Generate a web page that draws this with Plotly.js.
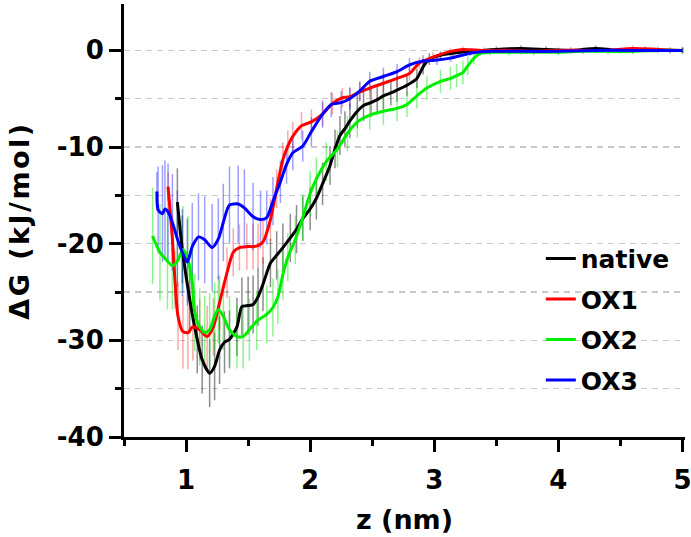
<!DOCTYPE html>
<html>
<head>
<meta charset="utf-8">
<script src="https://cdn.plot.ly/plotly-3.0.1.min.js"></script>
<style>html,body{margin:0;padding:0;background:#fff;}#chart{width:691px;height:537px;}
.ytitle{letter-spacing:2.5px;}</style>
</head>
<body>
<div id="chart"></div>
<script>
// ---- data ----
const seriesNames = ["native", "OX1", "OX2", "OX3"];

const zNative = [0.93,0.97,1.03,1.09,1.13,1.19,1.23,1.27,1.31,1.35,1.41,1.45,1.5,1.54,1.58,1.62,1.68,1.73,1.78,1.84,1.89,1.94,2.0,2.05,2.1,2.16,2.2,2.24,2.28,2.32,2.38,2.43,2.49,2.54,2.59,2.65,2.7,2.78,2.86,2.91,2.96,3.05,3.15,3.3,3.5,3.7,3.9,4.1,4.3,4.5,4.7,4.9,5.0];
const gNative = [-15.7,-20.6,-25.8,-29.9,-32.0,-33.4,-32.7,-31.0,-30.2,-29.9,-28.6,-26.5,-26.4,-26.3,-25.5,-24.2,-22.0,-21.2,-20.4,-19.4,-18.5,-17.4,-16.4,-15.3,-13.8,-11.9,-10.2,-8.8,-8.1,-7.3,-6.3,-5.7,-5.4,-5.1,-4.7,-4.4,-4.1,-3.6,-2.9,-1.7,-0.9,-0.5,-0.3,-0.1,0.1,0.2,0.1,0.0,0.2,0.0,0.1,0.0,0.0];
const eNative = [3.5,3.5,3.5,3.5,3.5,3.5,3.5,3.5,3.2,3,3,3,3,3,3,2.8,2.5,2.5,2.5,2.5,2.5,2.3,2.2,2.2,2.2,2,2,2,1.8,1.8,1.7,1.6,1.5,1.5,1.4,1.3,1.2,1.1,1.0,0.8,0.6,0.4,0.3,0.3,0.3,0.3,0.3,0.3,0.3,0.3,0.3,0.3,0.3];

const zOX1 = [0.855,0.89,0.91,0.935,0.975,1.015,1.055,1.11,1.17,1.22,1.27,1.33,1.38,1.43,1.49,1.54,1.58,1.62,1.68,1.73,1.78,1.82,1.86,1.93,2.01,2.1,2.18,2.26,2.32,2.4,2.48,2.59,2.7,2.8,2.88,2.99,3.13,3.23,3.4,3.6,3.8,4.0,4.2,4.4,4.6,4.8,5.0];
const gOX1 = [-14.1,-19.5,-23.7,-27.5,-29.1,-29.2,-28.6,-28.9,-29.6,-28.6,-26.1,-23.0,-20.9,-20.4,-20.3,-20.3,-20.2,-19.8,-17.5,-14.3,-11.3,-9.9,-8.9,-7.8,-7.4,-6.6,-5.5,-4.9,-4.8,-4.3,-3.9,-3.4,-2.9,-2.4,-1.3,-0.7,-0.1,0.1,0.0,0.0,-0.1,0.0,0.0,0.0,0.2,0.1,0.0];
const eOX1 = [1.5,2.5,3,3.5,3.8,3.8,3.5,3.2,3.2,3,2.8,2.6,2.5,2.4,2.4,2.4,2.3,2.3,2.2,2.0,1.8,1.6,1.5,1.4,1.3,1.2,1.1,1.0,1.0,1.0,1.0,1.0,0.9,0.8,0.6,0.5,0.3,0.3,0.3,0.3,0.3,0.3,0.3,0.3,0.3,0.3,0.3];

const zOX2 = [0.73,0.79,0.85,0.89,0.93,0.975,1.015,1.05,1.07,1.11,1.15,1.19,1.23,1.26,1.3,1.35,1.41,1.46,1.51,1.57,1.65,1.7,1.74,1.78,1.82,1.88,1.94,2.0,2.05,2.13,2.22,2.3,2.38,2.48,2.59,2.7,2.78,2.86,2.94,3.05,3.13,3.18,3.23,3.27,3.32,3.37,3.45,3.6,3.8,4.0,4.2,4.4,4.6,4.8,5.0];
const gOX2 = [-19.2,-20.9,-21.8,-22.3,-21.8,-20.6,-21.6,-24.0,-27.1,-28.6,-29.2,-28.9,-27.5,-26.8,-27.5,-28.9,-29.6,-29.6,-28.9,-28.0,-27.3,-26.6,-25.5,-23.2,-21.4,-19.6,-17.3,-14.8,-13.3,-11.5,-10.2,-8.6,-7.4,-6.7,-6.3,-6.0,-5.6,-4.7,-3.9,-3.2,-2.9,-2.6,-2.3,-1.6,-0.8,-0.3,-0.2,-0.2,-0.2,-0.2,-0.1,-0.1,-0.1,0.0,0.0];
const eOX2 = [5,5,5,4.5,4.5,4.5,4.5,4,4,4,3.8,3.8,3.5,3.5,3.5,3.5,3.3,3.3,3.2,3.0,3.0,3.0,2.8,2.6,2.5,2.5,2.4,2.3,2.2,2.0,1.9,1.8,1.6,1.5,1.4,1.3,1.3,1.3,1.2,1.2,1.2,1.2,1.2,1.0,0.6,0.3,0.3,0.3,0.3,0.3,0.3,0.3,0.3,0.3,0.3];

const zOX3 = [0.765,0.775,0.81,0.83,0.855,0.89,0.93,0.97,1.01,1.05,1.1,1.15,1.21,1.26,1.3,1.35,1.42,1.47,1.54,1.6,1.65,1.7,1.76,1.81,1.86,1.94,2.01,2.1,2.17,2.25,2.32,2.4,2.48,2.59,2.7,2.8,2.91,3.02,3.13,3.29,3.45,3.7,4.0,4.3,4.6,5.0];
const gOX3 = [-14.6,-16.5,-16.9,-16.4,-16.7,-17.8,-19.5,-20.9,-21.9,-20.3,-19.3,-19.6,-20.4,-19.5,-17.8,-16.0,-15.9,-16.3,-17.2,-17.5,-17.3,-15.6,-13.6,-11.8,-10.6,-9.9,-8.4,-6.6,-5.6,-5.4,-5.0,-4.2,-3.2,-2.7,-2.2,-1.5,-1.1,-1.0,-0.8,-0.3,-0.1,-0.1,-0.1,0.0,0.0,0.0];
const eOX3 = [2,4.5,5,5,5,5,5,4.5,4.5,4.5,4.5,4.5,4.5,4.2,4,4,4,4,3.5,3,2.8,2.5,2.2,2,1.8,1.6,1.5,1.4,1.3,1.2,1.1,1.0,1.0,0.9,0.8,0.7,0.6,0.5,0.4,0.3,0.3,0.3,0.3,0.3,0.3,0.3];

const xTickVals = [1, 2, 3, 4, 5];
const yTickVals = [0, -10, -20, -30, -40];

// ---- styling ----
const FONT = "DejaVu Sans";
const lineColors = ["#000000", "#ff0000", "#00ee00", "#0000ff"];
const barColors = ["rgba(0,0,0,0.45)", "rgba(255,0,0,0.35)", "rgba(0,230,0,0.45)", "rgba(0,0,255,0.38)"];

const zs = [zNative, zOX1, zOX2, zOX3];
const gs = [gNative, gOX1, gOX2, gOX3];
const es = [eNative, eOX1, eOX2, eOX3];

const traces = [];
// error bars first (underneath all curves)
for (let i = 0; i < 4; i++) {
  traces.push({
    x: zs[i], y: gs[i], type: "scatter", mode: "markers",
    marker: {size: 1, color: "rgba(0,0,0,0)"},
    error_y: {type: "data", array: es[i], visible: true, color: barColors[i], thickness: 1.5, width: 0},
    showlegend: false, hoverinfo: "skip"
  });
}
for (let i = 0; i < 4; i++) {
  traces.push({
    x: zs[i], y: gs[i], type: "scatter", mode: "lines",
    name: seriesNames[i], legendgroup: seriesNames[i],
    line: {color: lineColors[i], width: 3, shape: "spline", smoothing: 0.7}
  });
}

const layout = {
  width: 691, height: 537,
  margin: {l: 124, r: 6, t: 4, b: 100},
  paper_bgcolor: "#fff", plot_bgcolor: "#fff",
  font: {family: FONT, color: "#000"},
  showlegend: true,
  legend: {
    x: 0.743, y: 0.465, xanchor: "left", yanchor: "top",
    font: {family: FONT, size: 25, color: "#000", weight: "bold"},
    bgcolor: "rgba(0,0,0,0)", tracegroupgap: 5
  },
  xaxis: {
    range: [0.5, 5.02], showline: true, linecolor: "#000", linewidth: 3,
    tickmode: "array", tickvals: xTickVals, ticktext: xTickVals.map(String),
    ticks: "outside", ticklen: 12, tickwidth: 3, tickcolor: "#000",
    ticklabelstandoff: 6, ticklabeloverflow: "allow",
    minor: {tickmode: "linear", tick0: 0.5, dtick: 0.5, ticks: "outside", ticklen: 6, tickwidth: 3, tickcolor: "#000", showgrid: false},
    showgrid: false, zeroline: false,
    tickfont: {family: FONT, size: 26, weight: "bold"},
    title: {text: "z (nm)", font: {family: FONT, size: 27, weight: "bold"}, standoff: 16}
  },
  yaxis: {
    range: [-40, 4.8], showline: true, linecolor: "#000", linewidth: 3,
    tickmode: "array", tickvals: yTickVals, ticktext: yTickVals.map(String),
    ticks: "outside", ticklen: 12, tickwidth: 3, tickcolor: "#000",
    minor: {tickmode: "linear", tick0: -40, dtick: 5, ticks: "outside", ticklen: 6, tickwidth: 3, tickcolor: "#000",
            showgrid: true, gridcolor: "#c8c8c8", gridwidth: 1.3, griddash: "6px,5px"},
    showgrid: true, gridcolor: "#c8c8c8", gridwidth: 1.3, griddash: "6px,5px",
    zeroline: false,
    tickfont: {family: FONT, size: 26, weight: "bold"},
    title: {text: "ΔG (kJ/mol)", font: {family: FONT, size: 27, weight: "bold"}, standoff: 20}
  }
};

Plotly.newPlot("chart", traces, layout, {staticPlot: true, displayModeBar: false});
</script>
</body>
</html>
